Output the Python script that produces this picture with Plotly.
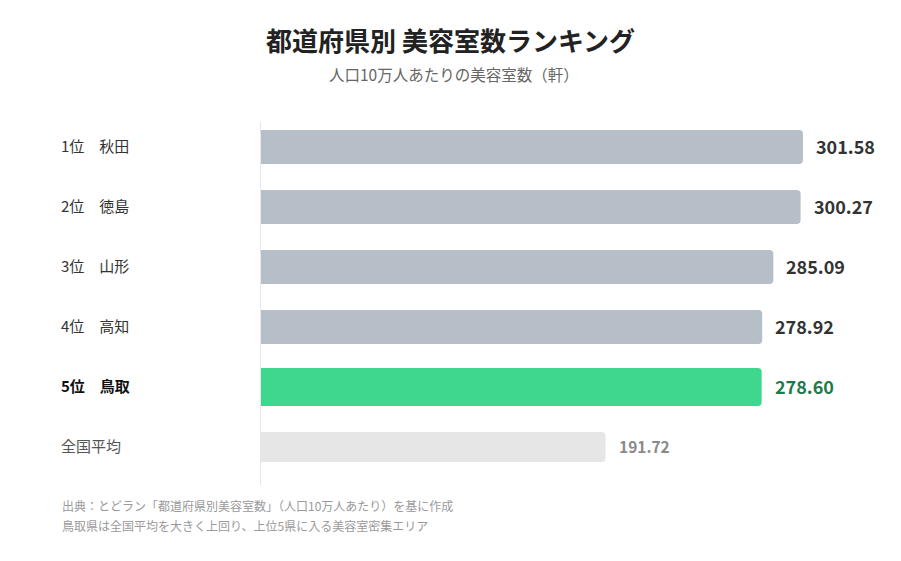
import plotly.graph_objects as go

labels = ["1位　秋田", "2位　徳島", "3位　山形", "4位　高知", "5位　鳥取", "全国平均"]
values = [301.58, 300.27, 285.09, 278.92, 278.60, 191.72]
value_texts = ["301.58", "300.27", "285.09", "278.92", "278.60", "191.72"]
bar_colors = ["#b6bec7", "#b6bec7", "#b6bec7", "#b6bec7", "#3fd68d", "#e6e6e6"]
bar_widths = [0.57, 0.57, 0.57, 0.57, 0.63, 0.5]
value_colors = ["#333333", "#333333", "#333333", "#333333", "#1e7a4b", "#8a8a8a"]
value_sizes = [18, 18, 18, 18, 18, 15.5]
label_colors = ["#333333", "#333333", "#333333", "#333333", "#111111", "#555555"]
label_weights = ["normal", "normal", "normal", "normal", "bold", "normal"]

FONT = "Noto Sans CJK JP"
W, H = 901, 561
OFF = 8  # page body margin offset
ML, MR, MT, MB = 261 - OFF, 37, 122 - OFF, 84
plot_w = W - ML - MR
plot_h = H - MT - MB


def px_x(x):
    return (x - OFF - ML) / plot_w


def px_y(y):
    return (H - MB - (y - OFF)) / plot_h


idx = list(range(len(labels)))

fig = go.Figure()
fig.add_trace(go.Bar(
    y=idx, x=values, orientation="h",
    marker=dict(color=bar_colors, line=dict(width=0)),
    width=bar_widths, hoverinfo="skip",
))

annotations = []
for i, (v, t, c, s) in enumerate(zip(values, value_texts, value_colors, value_sizes)):
    annotations.append(dict(x=v, y=i, xref="x", yref="y", text=f"<b>{t}</b>",
                            showarrow=False, xanchor="left", xshift=11, yshift=1,
                            font=dict(family=FONT, size=s, color=c)))
for i, (lab, c, w) in enumerate(zip(labels, label_colors, label_weights)):
    txt = f"<b>{lab}</b>" if w == "bold" else lab
    annotations.append(dict(x=px_x(59), y=i, xref="paper", yref="y", text=txt,
                            showarrow=False, xanchor="left", yshift=2,
                            font=dict(family=FONT, size=15, color=c)))

annotations.append(dict(x=px_x(450), y=px_y(39), xref="paper", yref="paper",
                        text="<b>都道府県別 美容室数ランキング</b>", showarrow=False,
                        xanchor="center", yanchor="middle",
                        font=dict(family=FONT, size=26, color="#222222")))
annotations.append(dict(x=px_x(454), y=px_y(74), xref="paper", yref="paper",
                        text="人口10万人あたりの美容室数（軒）", showarrow=False,
                        xanchor="center", yanchor="middle",
                        font=dict(family=FONT, size=15.5, color="#666666")))
footnotes = ["出典：とどラン「都道府県別美容室数」（人口10万人あたり）を基に作成",
             "鳥取県は全国平均を大きく上回り、上位5県に入る美容室密集エリア"]
for k, fn in enumerate(footnotes):
    annotations.append(dict(x=px_x(60), y=px_y(505 + 20 * k), xref="paper",
                            yref="paper", text=fn, showarrow=False,
                            xanchor="left", yanchor="middle",
                            font=dict(family=FONT, size=12, color="#9a9a9a")))

fig.update_layout(
    width=W, height=H,
    margin=dict(l=ML, r=MR, t=MT, b=MB),
    paper_bgcolor="white", plot_bgcolor="white",
    barcornerradius=4,
    showlegend=False,
    font=dict(family=FONT),
    xaxis=dict(range=[0, 340], showgrid=False, zeroline=False, showticklabels=False,
               showline=False, fixedrange=True),
    yaxis=dict(range=[5.633, -0.417], showgrid=False, zeroline=False, showticklabels=False,
               showline=True, linecolor="#e6e6e6", linewidth=1, fixedrange=True),
    annotations=annotations,
)

fig.write_html("out.html")
